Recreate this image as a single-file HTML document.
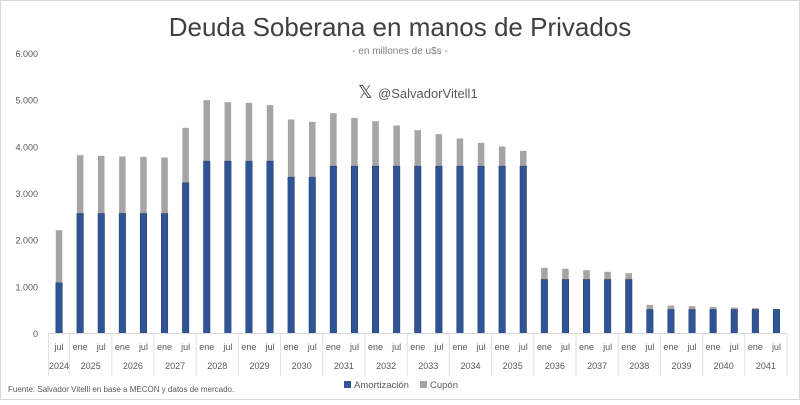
<!DOCTYPE html>
<html><head><meta charset="utf-8">
<style>
body{margin:0;background:#fff;}
svg text{font-family:"Liberation Sans",sans-serif;}
</style></head>
<body>
<svg id="chart" width="800" height="400" xmlns="http://www.w3.org/2000/svg">
<rect x="0.5" y="0.5" width="799" height="399" fill="#fff" stroke="#d9d9d9"/>
<text x="400" y="36" text-anchor="middle" font-size="26" fill="#404040">Deuda Soberana en manos de Privados</text>
<text x="400" y="54" text-anchor="middle" font-size="10" fill="#7f7f7f">- en millones de u$s -</text>
<text x="358" y="98" font-size="18" fill="#404040">𝕏</text>
<text x="378" y="98" font-size="13" fill="#595959">@SalvadorVitell1</text>
<g id="yaxis"></g>
<g id="bars"></g>
<g id="xaxis"></g>
<text x="8" y="392" font-size="8" fill="#595959">Fuente:  Salvador Vitelli en base a MECON y datos de mercado.</text>
<rect x="344" y="381" width="7" height="7" fill="#2f5597"/>
<text x="354" y="388" font-size="9.5" fill="#595959">Amortización</text>
<rect x="420" y="381" width="7" height="7" fill="#a5a5a5"/>
<text x="430" y="388" font-size="9.5" fill="#595959">Cupón</text>
</svg>
<script>
const months = ["jul","ene","jul","ene","jul","ene","jul","ene","jul","ene","jul","ene","jul","ene","jul","ene","jul","ene","jul","ene","jul","ene","jul","ene","jul","ene","jul","ene","jul","ene","jul","ene","jul","ene","jul"];
const years = ["2024","2025","2026","2027","2028","2029","2030","2031","2032","2033","2034","2035","2036","2037","2038","2039","2040","2041"];
const amortizacion = [1086,2571,2571,2571,2571,2571,3229,3693,3693,3693,3693,3350,3350,3586,3586,3586,3586,3586,3586,3586,3586,3586,3586,1157,1157,1157,1157,1157,514,514,514,514,514,514,514];
const total = [2214,3821,3807,3793,3786,3771,4407,5000,4957,4943,4893,4586,4536,4721,4621,4550,4457,4357,4271,4179,4086,4007,3914,1407,1386,1357,1321,1293,614,600,586,571,557,543,529];
const yTicks = [0,1000,2000,3000,4000,5000,6000];
const yTickLabels = ["0","1.000","2.000","3.000","4.000","5.000","6.000"];

const NS="http://www.w3.org/2000/svg";
const x0=48.5, x1=787, y0=333.5, yTop=53.5, yMax=6000;
const n=months.length, step=(x1-x0)/n;
const yS=v=>y0-(v/yMax)*(y0-yTop);
const xC=i=>x0+step*(i+0.5);
function mk(tag,attrs,parent){const e=document.createElementNS(NS,tag);for(const k in attrs)e.setAttribute(k,attrs[k]);parent.appendChild(e);return e;}
const ya=document.getElementById('yaxis'), bg=document.getElementById('bars'), xa=document.getElementById('xaxis');
yTicks.forEach((v,i)=>{
  const t=mk('text',{x:38,y:yS(v)+3.5,'text-anchor':'end','font-size':9,fill:'#595959'},ya);
  
  
  t.textContent=yTickLabels[i];
});
const bw=6.5;
months.forEach((m,i)=>{
  const cx=xC(i);
  const c=mk('rect',{x:cx-bw/2,y:yS(total[i]),width:bw,height:yS(amortizacion[i])-yS(total[i]),fill:'#a5a5a5'},bg);
  
  
  const a=mk('rect',{x:cx-bw/2,y:yS(amortizacion[i]),width:bw,height:y0-yS(amortizacion[i]),fill:'#2f5597',stroke:'#203864','stroke-width':0.5},bg);
  
  
  const t=mk('text',{x:cx,y:350,'text-anchor':'middle','font-size':9,fill:'#595959'},xa);
  
  
  t.textContent=m;
});
const ax=mk('line',{x1:x0,y1:y0,x2:x1,y2:y0,stroke:'#d9d9d9','stroke-width':1},xa);


years.forEach((yr,j)=>{
  const s=j===0?0:1+(j-1)*2, e=j===0?1:s+2;
  const xa0=x0+s*step, xa1=x0+e*step;
  const sep=mk('line',{x1:xa0,y1:y0,x2:xa0,y2:376,stroke:'#e0e0e0','stroke-width':1},xa);
  
  
  const t=mk('text',{x:(xa0+xa1)/2,y:369,'text-anchor':'middle','font-size':9,fill:'#595959'},xa);
  
  
  t.textContent=yr;
});
const last=mk('line',{x1:x1,y1:y0,x2:x1,y2:376,stroke:'#e0e0e0','stroke-width':1},xa);


</script>
</body></html>
